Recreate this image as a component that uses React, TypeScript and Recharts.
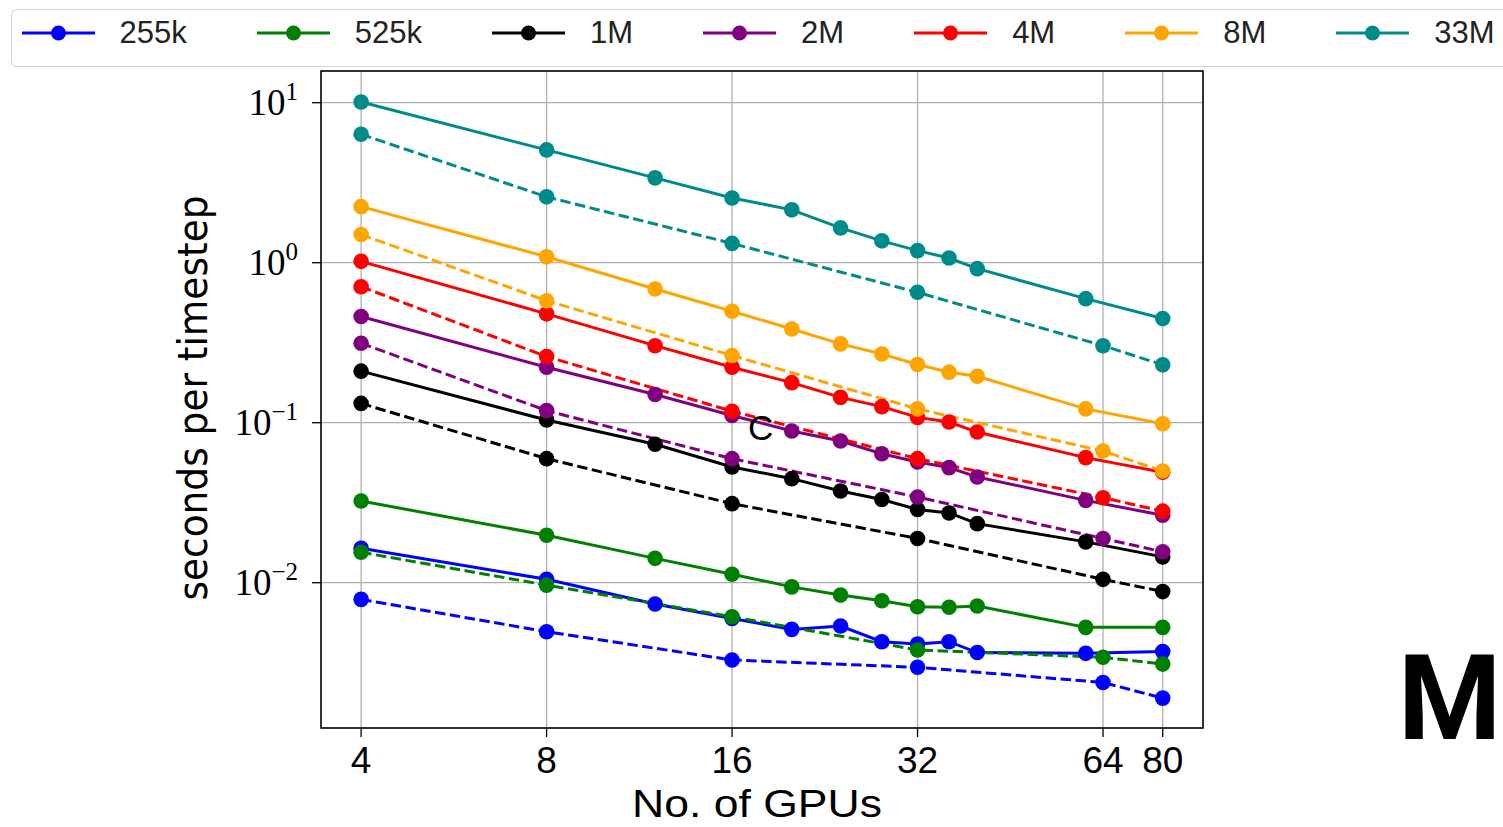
import React from "react";
import {
  CartesianGrid,
  Line,
  LineChart,
  ReferenceArea,
  XAxis,
  YAxis,
} from "recharts";

// GPU counts: solid runs use the full sweep, dashed runs only powers of two (+80)
const gpusAll = [4, 8, 12, 16, 20, 24, 28, 32, 36, 40, 60, 80];
const gpusPow = [4, 8, 16, 32, 64, 80];

const sizes = ["255k", "525k", "1M", "2M", "4M", "8M", "33M"];
const colors = [
  "#0000ff",
  "#008000",
  "#000000",
  "#800080",
  "#ff0000",
  "#ffa500",
  "#008b8b",
];

// seconds per timestep, solid lines (gpusAll)
const solid255k = [0.0164, 0.0105, 0.00736, 0.00598, 0.00511, 0.00536, 0.00428, 0.00414, 0.00428, 0.00366, 0.00362, 0.00371];
const solid525k = [0.0324, 0.0198, 0.0142, 0.0113, 0.00942, 0.00837, 0.00771, 0.00708, 0.00702, 0.00715, 0.00526, 0.00526];
const solid1M = [0.21, 0.104, 0.0733, 0.0529, 0.0447, 0.0374, 0.0331, 0.0287, 0.0273, 0.0234, 0.018, 0.0145];
const solid2M = [0.461, 0.222, 0.15, 0.111, 0.0887, 0.0768, 0.064, 0.0568, 0.0524, 0.0458, 0.0327, 0.0264];
const solid4M = [1.02, 0.479, 0.303, 0.222, 0.178, 0.144, 0.126, 0.108, 0.101, 0.0874, 0.0605, 0.049];
const solid8M = [2.24, 1.09, 0.685, 0.497, 0.385, 0.311, 0.269, 0.231, 0.207, 0.195, 0.122, 0.0986];
const solid33M = [10.1, 5.07, 3.39, 2.54, 2.14, 1.65, 1.37, 1.19, 1.07, 0.918, 0.596, 0.448];

// seconds per timestep, dashed lines (gpusPow)
const dashed255k = [0.00787, 0.00494, 0.00329, 0.00296, 0.00238, 0.0019];
const dashed525k = [0.0155, 0.00966, 0.00613, 0.0038, 0.00342, 0.0031];
const dashed1M = [0.132, 0.0596, 0.0312, 0.0189, 0.0105, 0.0088];
const dashed2M = [0.314, 0.119, 0.0596, 0.0343, 0.0189, 0.0156];
const dashed4M = [0.708, 0.259, 0.118, 0.0596, 0.034, 0.028];
const dashed8M = [1.5, 0.579, 0.263, 0.122, 0.0665, 0.0499];
const dashed33M = [6.35, 2.58, 1.32, 0.653, 0.303, 0.23];

const xTicks = [4, 8, 16, 32, 64, 80];
const yTicks = [0.01, 0.1, 1, 10];
const xDomain = [3.443, 93];
const yDomain = [0.001236, 15.78];

const solidRows = [solid255k, solid525k, solid1M, solid2M, solid4M, solid8M, solid33M];
const dashedRows = [dashed255k, dashed525k, dashed1M, dashed2M, dashed4M, dashed8M, dashed33M];

const toPoints = (xs: number[], ys: number[]) =>
  xs.map((x, i) => ({ x, y: ys[i] }));

const sans = "'Liberation Sans', Arial, sans-serif";

const XTick = (props: any) => {
  const { x, y, payload } = props;
  return (
    <text x={x} y={y + 34} textAnchor="middle" fontFamily={sans} fontSize={37} fill="#000">
      {payload.value}
    </text>
  );
};

const YTick = (props: any) => {
  const { x, y, payload } = props;
  const exp = Math.round(Math.log10(payload.value));
  const expText = exp < 0 ? "\u2212" + Math.abs(exp) : String(exp);
  return (
    <text
      x={x - 12}
      y={y + 12.5}
      textAnchor="end"
      fontFamily="'Liberation Serif', 'DejaVu Serif', serif"
      fontSize={37}
      fill="#000"
    >
      10
      <tspan dy={-15} fontSize={25}>
        {expText}
      </tspan>
    </text>
  );
};

const Legend7 = () => (
  <div
    style={{
      position: "absolute",
      left: 11,
      top: 9,
      width: 1530,
      height: 58,
      boxSizing: "border-box",
      border: "1.5px solid #d4d4d4",
      borderRadius: 6,
      background: "#fff",
      display: "flex",
      alignItems: "center",
      paddingLeft: 9.5,
      paddingBottom: 10,
    }}
  >
    {sizes.map((s, i) => (
      <div key={s} style={{ display: "flex", alignItems: "center", marginRight: 70 }}>
        <svg width={73} height={20}>
          <line x1={0} y1={10} x2={73} y2={10} stroke={colors[i]} strokeWidth={3} />
          <circle cx={36.5} cy={10} r={7.5} fill={colors[i]} />
        </svg>
        <span
          style={{
            marginLeft: 25,
            fontFamily: sans,
            fontSize: 31,
            lineHeight: "30px",
            color: "#222",
          }}
        >
          {s}
        </span>
      </div>
    ))}
  </div>
);

const App = () => {
  return (
    <div
      style={{
        position: "absolute",
        left: 0,
        top: 0,
        width: 1503,
        height: 827,
        overflow: "hidden",
        background: "#fff",
      }}
    >
      <LineChart
        width={1503}
        height={827}
        margin={{ top: 71, right: 300, bottom: 0, left: 0 }}
      >
        <CartesianGrid stroke="#b0b0b0" strokeWidth={1.3} />
        <XAxis
          type="number"
          dataKey="x"
          scale="log"
          domain={xDomain}
          allowDataOverflow
          ticks={xTicks}
          height={99}
          tickSize={9}
          axisLine={false}
          tickLine={{ stroke: "#000", strokeWidth: 1.3 }}
          tick={<XTick />}
          label={(p: any) => (
            <text
              x={757}
              y={817}
              textAnchor="middle"
              fontFamily={sans}
              fontSize={38}
              textLength={250}
              lengthAdjust="spacingAndGlyphs"
              fill="#000"
            >
              No. of GPUs
            </text>
          )}
        />
        <YAxis
          type="number"
          dataKey="y"
          scale="log"
          domain={yDomain}
          allowDataOverflow
          ticks={yTicks}
          width={321}
          tickSize={9}
          axisLine={false}
          tickLine={{ stroke: "#000", strokeWidth: 1.3 }}
          tick={<YTick />}
          label={(p: any) => (
            <text
              x={207}
              y={398}
              transform="rotate(-90, 207, 398)"
              textAnchor="middle"
              fontFamily="'Liberation Sans Narrow', 'DejaVu Sans Condensed', sans-serif"
              fontSize={40}
              textLength={405}
              lengthAdjust="spacingAndGlyphs"
              fill="#000"
            >
              seconds per timestep
            </text>
          )}
        />
        {sizes.map((s, i) => [
          <Line
            key={s + "-solid"}
            data={toPoints(gpusAll, solidRows[i])}
            dataKey="y"
            type="linear"
            stroke={colors[i]}
            strokeWidth={3}
            dot={{ r: 7.8, fill: colors[i], stroke: "none" }}
            activeDot={false}
            isAnimationActive={false}
          />,
          <Line
            key={s + "-dashed"}
            data={toPoints(gpusPow, dashedRows[i])}
            dataKey="y"
            type="linear"
            stroke={colors[i]}
            strokeWidth={3}
            strokeDasharray="10.5 4.5"
            dot={{ r: 7.8, fill: colors[i], stroke: "none" }}
            activeDot={false}
            isAnimationActive={false}
          />,
        ])}
        <ReferenceArea
          x1={xDomain[0]}
          x2={xDomain[1]}
          y1={yDomain[0]}
          y2={yDomain[1]}
          fill="none"
          fillOpacity={0}
          stroke="#000"
          strokeWidth={1.5}
          ifOverflow="visible"
        />
      </LineChart>
      <Legend7 />
      <svg
        width={1503}
        height={827}
        style={{ position: "absolute", left: 0, top: 0, pointerEvents: "none" }}
      >
        <text x={748} y={440} fontFamily={sans} fontSize={35} fill="#000">
          C
        </text>
        <text
          x={1398}
          y={739}
          fontFamily="Roboto, 'Liberation Sans', sans-serif"
          fontWeight={700}
          fontSize={118}
          fill="#000"
        >
          M
        </text>
      </svg>
    </div>
  );
};

export default App;
